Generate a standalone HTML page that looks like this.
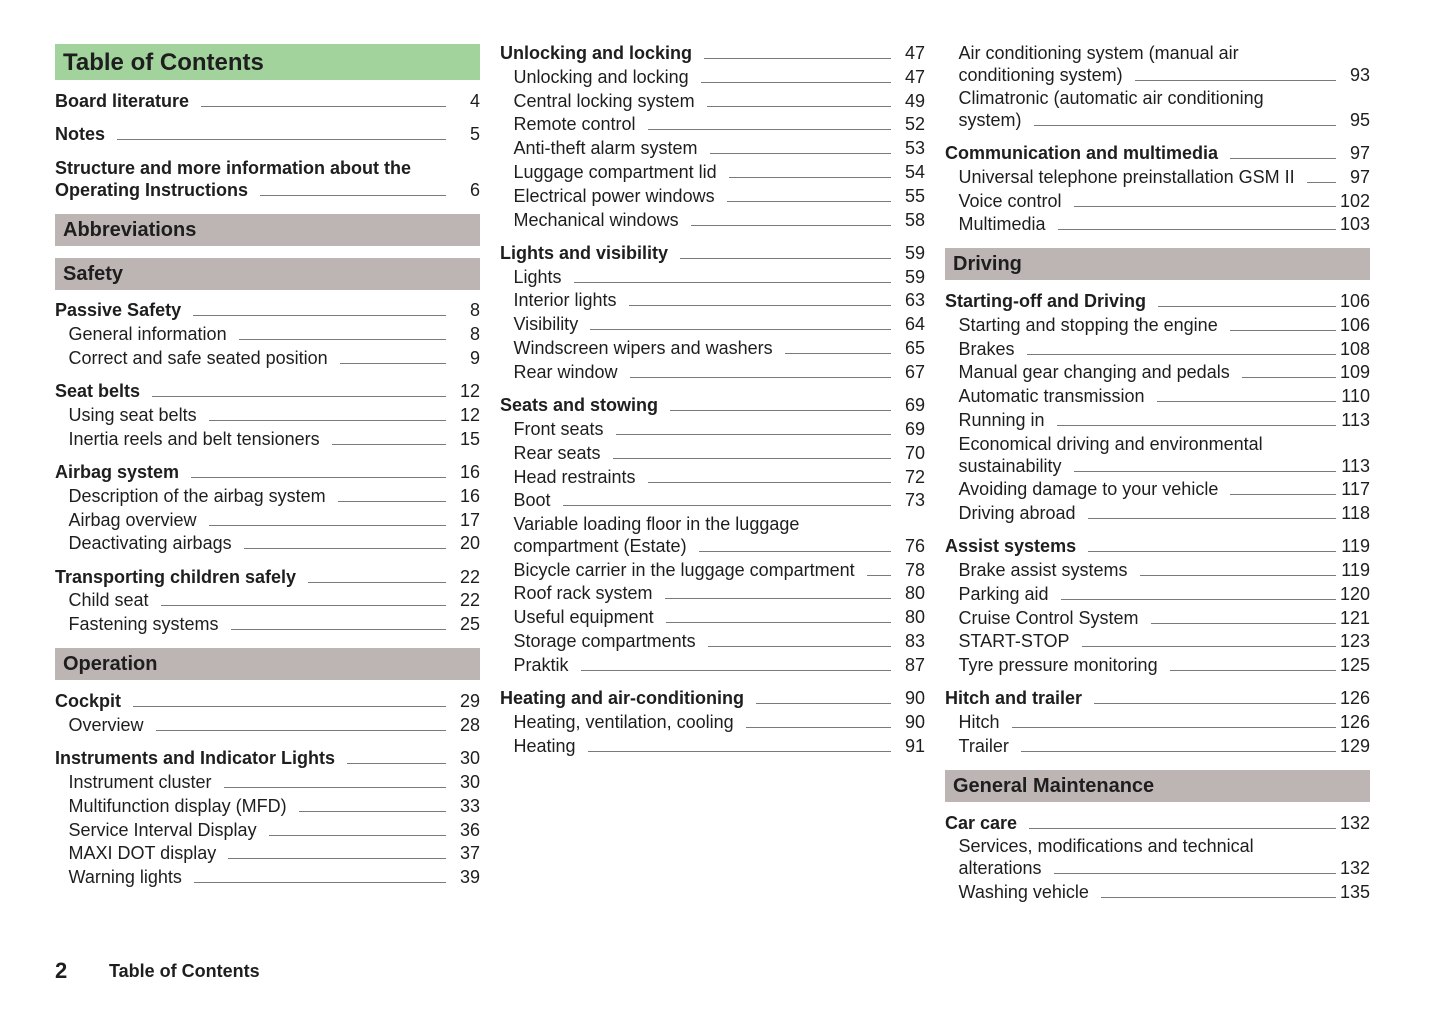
<!DOCTYPE html>
<html><head><meta charset="utf-8"><style>
body{margin:0;background:#fff;}
#page{position:relative;width:1445px;height:1019px;overflow:hidden;font-family:"Liberation Sans",sans-serif;color:#1e1e1e;font-size:18px;}
.row{position:absolute;height:24px;line-height:24px;display:flex;white-space:nowrap;}
.row.b{font-weight:bold;}
.lead{flex:1;border-bottom:1px solid #7a7a7a;height:0;margin:17px 0 0 12px;}
.num{width:34px;text-align:right;font-weight:normal;}
.bar{position:absolute;height:32px;line-height:32px;background:#bcb5b3;font-weight:bold;font-size:20px;padding-left:8px;box-sizing:border-box;}
</style></head><body>
<div id="page">
<div class="bar" style="left:55px;top:44px;width:425px;height:36px;line-height:38px;background:#a3d39c;font-size:24px;">Table of Contents</div>
<div class="bar" style="left:55px;top:214px;width:425px;">Abbreviations</div>
<div class="bar" style="left:55px;top:258px;width:425px;">Safety</div>
<div class="bar" style="left:55px;top:648px;width:425px;">Operation</div>
<div class="bar" style="left:945px;top:248px;width:425px;">Driving</div>
<div class="bar" style="left:945px;top:770px;width:425px;">General Maintenance</div>
<div style="position:absolute;left:55px;top:958px;font-weight:bold;font-size:22px;">2</div>
<div style="position:absolute;left:109px;top:961px;font-weight:bold;font-size:18px;">Table of Contents</div>
</div>
<script>
const cols=[55,500,945];
// [col, centerY, bold, text, page, extraLine]
const entries=[
[0,101,1,"Board literature","4"],
[0,134,1,"Notes","5"],
[0,190,1,"Operating Instructions","6","Structure and more information about the"],
[0,310,1,"Passive Safety","8"],
[0,334,0,"General information","8"],
[0,358,0,"Correct and safe seated position","9"],
[0,391,1,"Seat belts","12"],
[0,415,0,"Using seat belts","12"],
[0,439,0,"Inertia reels and belt tensioners","15"],
[0,472,1,"Airbag system","16"],
[0,496,0,"Description of the airbag system","16"],
[0,520,0,"Airbag overview","17"],
[0,543,0,"Deactivating airbags","20"],
[0,577,1,"Transporting children safely","22"],
[0,600,0,"Child seat","22"],
[0,624,0,"Fastening systems","25"],
[0,701,1,"Cockpit","29"],
[0,725,0,"Overview","28"],
[0,758,1,"Instruments and Indicator Lights","30"],
[0,782,0,"Instrument cluster","30"],
[0,806,0,"Multifunction display (MFD)","33"],
[0,830,0,"Service Interval Display","36"],
[0,853,0,"MAXI DOT display","37"],
[0,877,0,"Warning lights","39"],
[1,53,1,"Unlocking and locking","47"],
[1,77,0,"Unlocking and locking","47"],
[1,101,0,"Central locking system","49"],
[1,124,0,"Remote control","52"],
[1,148,0,"Anti-theft alarm system","53"],
[1,172,0,"Luggage compartment lid","54"],
[1,196,0,"Electrical power windows","55"],
[1,220,0,"Mechanical windows","58"],
[1,253,1,"Lights and visibility","59"],
[1,277,0,"Lights","59"],
[1,300,0,"Interior lights","63"],
[1,324,0,"Visibility","64"],
[1,348,0,"Windscreen wipers and washers","65"],
[1,372,0,"Rear window","67"],
[1,405,1,"Seats and stowing","69"],
[1,429,0,"Front seats","69"],
[1,453,0,"Rear seats","70"],
[1,477,0,"Head restraints","72"],
[1,500,0,"Boot","73"],
[1,546,0,"compartment (Estate)","76","Variable loading floor in the luggage"],
[1,570,0,"Bicycle carrier in the luggage compartment","78"],
[1,593,0,"Roof rack system","80"],
[1,617,0,"Useful equipment","80"],
[1,641,0,"Storage compartments","83"],
[1,665,0,"Praktik","87"],
[1,698,1,"Heating and air-conditioning","90"],
[1,722,0,"Heating, ventilation, cooling","90"],
[1,746,0,"Heating","91"],
[2,75,0,"conditioning system)","93","Air conditioning system (manual air"],
[2,120,0,"system)","95","Climatronic (automatic air conditioning"],
[2,153,1,"Communication and multimedia","97"],
[2,177,0,"Universal telephone preinstallation GSM II","97"],
[2,201,0,"Voice control","102"],
[2,224,0,"Multimedia","103"],
[2,301,1,"Starting-off and Driving","106"],
[2,325,0,"Starting and stopping the engine","106"],
[2,349,0,"Brakes","108"],
[2,372,0,"Manual gear changing and pedals","109"],
[2,396,0,"Automatic transmission","110"],
[2,420,0,"Running in","113"],
[2,466,0,"sustainability","113","Economical driving and environmental"],
[2,489,0,"Avoiding damage to your vehicle","117"],
[2,513,0,"Driving abroad","118"],
[2,546,1,"Assist systems","119"],
[2,570,0,"Brake assist systems","119"],
[2,594,0,"Parking aid","120"],
[2,618,0,"Cruise Control System","121"],
[2,641,0,"START-STOP","123"],
[2,665,0,"Tyre pressure monitoring","125"],
[2,698,1,"Hitch and trailer","126"],
[2,722,0,"Hitch","126"],
[2,746,0,"Trailer","129"],
[2,823,1,"Car care","132"],
[2,868,0,"alterations","132","Services, modifications and technical"],
[2,892,0,"Washing vehicle","135"]
];
const page=document.getElementById('page');
entries.forEach(e=>{
  const [c,y,b,t,p,pre]=e;
  const x=cols[c]+(b?0:13.5);
  const w=cols[c]+425-x;
  if(pre){
    const d=document.createElement('div');
    d.className='row'+(b?' b':'');
    d.style.left=x+'px';d.style.top=(y-22-12)+'px';
    d.textContent=pre;
    
    
    page.appendChild(d);
  }
  const r=document.createElement('div');
  r.className='row'+(b?' b':'');
  r.style.left=x+'px';r.style.top=(y-12)+'px';r.style.width=w+'px';
  
  
  const s=document.createElement('span');s.textContent=t;
  
  
  const l=document.createElement('span');l.className='lead';
  
  
  const n=document.createElement('span');n.className='num';n.textContent=p;
  
  
  r.appendChild(s);r.appendChild(l);r.appendChild(n);
  page.appendChild(r);
});
</script>
</body></html>
